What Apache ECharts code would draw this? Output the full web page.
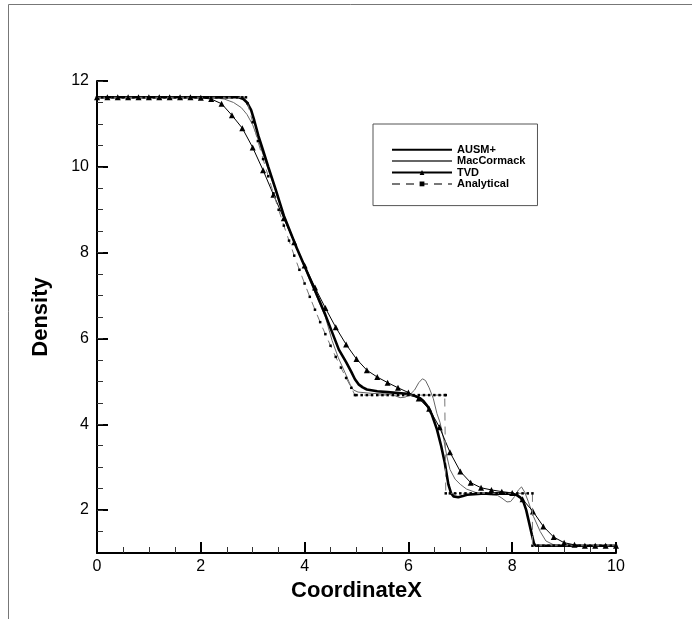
<!DOCTYPE html>
<html><head><meta charset="utf-8">
<script src="https://cdn.jsdelivr.net/npm/echarts@6/dist/echarts.min.js"></script>
<style>html,body{margin:0;padding:0;background:#fff}#c{width:692px;height:619px}</style>
</head><body><div id="c"></div>
<script>
// ---- data ----
const seriesNames = ['AUSM+', 'MacCormack', 'TVD', 'Analytical'];

const ausmX = [0, 2.73, 2.82, 2.89, 2.97, 3.03, 3.11, 3.2, 3.3, 3.44, 3.6, 3.85, 4.14, 4.4, 4.66, 4.8, 4.9, 4.97, 5.04, 5.12, 5.2, 5.4, 5.6, 5.97, 6.13, 6.22, 6.29, 6.37, 6.45, 6.55, 6.63, 6.7, 6.77, 6.82, 6.87, 6.96, 7.05, 7.13, 7.4, 7.77, 8.0, 8.09, 8.16, 8.22, 8.27, 8.31, 8.38, 8.42, 8.45, 10];
const ausmY = [11.62, 11.62, 11.58, 11.5, 11.32, 11.08, 10.72, 10.38, 10.0, 9.48, 8.86, 8.1, 7.29, 6.55, 5.74, 5.45, 5.22, 5.05, 4.93, 4.86, 4.81, 4.77, 4.75, 4.71, 4.66, 4.61, 4.54, 4.42, 4.23, 3.88, 3.5, 3.11, 2.6, 2.4, 2.32, 2.3, 2.33, 2.36, 2.38, 2.39, 2.38, 2.35, 2.29, 2.18, 2.0, 1.79, 1.42, 1.22, 1.17, 1.17];

const macX = [0, 2.2, 2.45, 2.63, 2.78, 2.89, 3.0, 3.1, 3.21, 3.44, 3.6, 4.1, 4.4, 4.53, 4.65, 4.78, 4.88, 4.94, 5.03, 5.3, 5.6, 5.75, 5.84, 5.93, 6.02, 6.12, 6.2, 6.27, 6.33, 6.4, 6.48, 6.55, 6.61, 6.68, 6.74, 6.8, 6.9, 7.0, 7.12, 7.3, 7.45, 7.6, 7.72, 7.8, 7.9, 7.97, 8.05, 8.12, 8.18, 8.24, 8.31, 8.41, 8.54, 8.65, 8.8, 8.95, 10];
const macY = [11.62, 11.62, 11.58, 11.5, 11.38, 11.22, 10.98, 10.65, 10.25, 9.45, 8.88, 7.35, 6.5, 5.95, 5.55, 5.2, 4.92, 4.8, 4.75, 4.72, 4.7, 4.66, 4.62, 4.63, 4.68, 4.8, 4.97, 5.06, 5.02, 4.85, 4.6, 4.25, 4.04, 3.65, 3.26, 2.95, 2.72, 2.6, 2.49, 2.41, 2.37, 2.35, 2.34, 2.28, 2.19, 2.2, 2.32, 2.47, 2.54, 2.42, 2.2, 1.85, 1.5, 1.28, 1.19, 1.17, 1.17];

const tvdX = [0, 0.2, 0.4, 0.6, 0.8, 1.0, 1.2, 1.4, 1.6, 1.8, 2.0, 2.2, 2.4, 2.6, 2.8, 3.0, 3.2, 3.4, 3.6, 3.8, 4.0, 4.2, 4.4, 4.6, 4.8, 5.0, 5.2, 5.4, 5.6, 5.8, 6.0, 6.2, 6.4, 6.6, 6.8, 7.0, 7.2, 7.4, 7.6, 7.8, 8.0, 8.2, 8.4, 8.6, 8.8, 9.0, 9.2, 9.4, 9.6, 9.8, 10.0];
const tvdY = [11.62, 11.62, 11.62, 11.62, 11.62, 11.62, 11.62, 11.62, 11.62, 11.62, 11.61, 11.58, 11.47, 11.2, 10.9, 10.45, 9.92, 9.35, 8.8, 8.24, 7.7, 7.19, 6.71, 6.26, 5.86, 5.52, 5.26, 5.1, 4.97, 4.85, 4.74, 4.6, 4.36, 3.93, 3.35, 2.9, 2.64, 2.52, 2.47, 2.43, 2.4, 2.25, 1.97, 1.62, 1.37, 1.24, 1.19, 1.17, 1.17, 1.17, 1.17];

const anaX = [0, 0.1, 0.2, 0.3, 0.4, 0.5, 0.6, 0.7, 0.8, 0.9, 1.0, 1.1, 1.2, 1.3, 1.4, 1.5, 1.6, 1.7, 1.8, 1.9, 2.0, 2.1, 2.2, 2.3, 2.4, 2.5, 2.6, 2.7, 2.8, 2.87, 2.9, 3.0, 3.1, 3.2, 3.3, 3.4, 3.5, 3.6, 3.7, 3.8, 3.9, 4.0, 4.1, 4.2, 4.3, 4.4, 4.5, 4.6, 4.7, 4.8, 4.9, 4.97, 5.0, 5.1, 5.2, 5.3, 5.4, 5.5, 5.6, 5.7, 5.8, 5.9, 6.0, 6.1, 6.2, 6.3, 6.4, 6.5, 6.6, 6.7, 6.72, 6.72, 6.8, 6.9, 7.0, 7.1, 7.2, 7.3, 7.4, 7.5, 7.6, 7.7, 7.8, 7.9, 8.0, 8.1, 8.2, 8.3, 8.39, 8.39, 8.5, 8.6, 8.7, 8.8, 8.9, 9.0, 9.1, 9.2, 9.3, 9.4, 9.5, 9.6, 9.7, 9.8, 9.9, 10.0];
const anaY = [11.62, 11.62, 11.62, 11.62, 11.62, 11.62, 11.62, 11.62, 11.62, 11.62, 11.62, 11.62, 11.62, 11.62, 11.62, 11.62, 11.62, 11.62, 11.62, 11.62, 11.62, 11.62, 11.62, 11.62, 11.62, 11.62, 11.62, 11.62, 11.62, 11.62, 11.48, 11.04, 10.6, 10.18, 9.78, 9.38, 9.0, 8.63, 8.28, 7.93, 7.6, 7.28, 6.97, 6.67, 6.38, 6.1, 5.83, 5.57, 5.32, 5.08, 4.85, 4.68, 4.68, 4.68, 4.68, 4.68, 4.68, 4.68, 4.68, 4.68, 4.68, 4.68, 4.68, 4.68, 4.68, 4.68, 4.68, 4.68, 4.68, 4.68, 4.68, 2.39, 2.39, 2.39, 2.39, 2.39, 2.39, 2.39, 2.39, 2.39, 2.39, 2.39, 2.39, 2.39, 2.39, 2.39, 2.39, 2.39, 2.39, 1.17, 1.17, 1.17, 1.17, 1.17, 1.17, 1.17, 1.17, 1.17, 1.17, 1.17, 1.17, 1.17, 1.17, 1.17, 1.17, 1.17];

const xTickValues = [0, 2, 4, 6, 8, 10];
const yTickValues = [2, 4, 6, 8, 10, 12];
const yMinorTickValues = [1.5, 2, 2.5, 3, 3.5, 4, 4.5, 5, 5.5, 6, 6.5, 7, 7.5, 8, 8.5, 9, 9.5, 10, 10.5, 11, 11.5, 12];

const xTitle = 'CoordinateX';
const yTitle = 'Density';

// ---- chart ----
const FONT = '"Liberation Sans", Arial, Helvetica, sans-serif';
const pairs = (xs, ys) => xs.map((x, i) => [x, ys[i]]);

const chart = echarts.init(document.getElementById('c'), null, {renderer: 'canvas'});
chart.setOption({
  animation: false,
  backgroundColor: '#ffffff',
  textStyle: {fontFamily: FONT},
  grid: {left: 97, right: 76, top: 81, bottom: 66, containLabel: false},
  graphic: [
    {type: 'line', shape: {x1: 8.5, y1: 4.5, x2: 692, y2: 4.5}, style: {stroke: '#777', lineWidth: 1}, silent: true},
    {type: 'line', shape: {x1: 8.5, y1: 4.5, x2: 8.5, y2: 619}, style: {stroke: '#777', lineWidth: 1}, silent: true}
  ],
  legend: {
    orient: 'vertical',
    left: 373, top: 124,
    padding: [20, 12, 16, 18],
    borderColor: '#555', borderWidth: 1,
    itemWidth: 60, itemHeight: 6, itemGap: 0,
    textStyle: {fontFamily: FONT, fontSize: 11, lineHeight: 11.4, fontWeight: 'bold', color: '#000'},
    data: [
      {name: seriesNames[0], itemStyle: {opacity: 0}},
      {name: seriesNames[1], itemStyle: {opacity: 0}},
      {name: seriesNames[2]},
      {name: seriesNames[3]}
    ]
  },
  xAxis: {
    type: 'value', min: 0, max: 10, interval: 2,
    name: xTitle, nameLocation: 'middle', nameGap: 26,
    nameTextStyle: {fontFamily: FONT, fontSize: 22, fontWeight: 'bold', color: '#000'},
    axisLine: {show: true, onZero: false, lineStyle: {color: '#000', width: 2}},
    axisTick: {show: true, inside: true, length: 11, lineStyle: {color: '#000', width: 2}},
    minorTick: {show: true, splitNumber: 4, length: 6, lineStyle: {color: '#333', width: 1}},
    axisLabel: {fontFamily: FONT, fontSize: 16, color: '#000', margin: 6},
    splitLine: {show: false}, minorSplitLine: {show: false}
  },
  yAxis: [{
    type: 'value', min: 1, max: 12,
    name: yTitle, nameLocation: 'middle', nameGap: 45,
    nameTextStyle: {fontFamily: FONT, fontSize: 22, fontWeight: 'bold', color: '#000'},
    axisLine: {show: true, onZero: false, lineStyle: {color: '#000', width: 2}},
    axisTick: {show: true, inside: true, length: 11, customValues: yTickValues, lineStyle: {color: '#000', width: 2}},
    axisLabel: {fontFamily: FONT, fontSize: 16, color: '#000', margin: 8, customValues: yTickValues},
    splitLine: {show: false}
  }, {
    type: 'value', min: 1, max: 12, position: 'left',
    axisLine: {show: false},
    axisTick: {show: true, inside: true, length: 6, customValues: yMinorTickValues, lineStyle: {color: '#333', width: 1}},
    axisLabel: {show: false},
    splitLine: {show: false}
  }],
  series: [
    {name: seriesNames[0], type: 'line', data: pairs(ausmX, ausmY), symbol: 'none', z: 3,
     lineStyle: {color: '#000', width: 2.6}, itemStyle: {color: '#000'}},
    {name: seriesNames[1], type: 'line', data: pairs(macX, macY), symbol: 'none', z: 2,
     lineStyle: {color: '#666', width: 1}, itemStyle: {color: '#666'}},
    {name: seriesNames[2], type: 'line', data: pairs(tvdX, tvdY), symbol: 'triangle', symbolSize: 6, z: 4,
     lineStyle: {color: '#000', width: 1}, itemStyle: {color: '#000'}},
    {name: seriesNames[3], type: 'line', data: pairs(anaX, anaY), symbol: 'rect', symbolSize: 2.5, z: 5,
     lineStyle: {color: '#777', width: 1, type: [8, 6]}, itemStyle: {color: '#000'}}
  ]
});
</script>
</body></html>
